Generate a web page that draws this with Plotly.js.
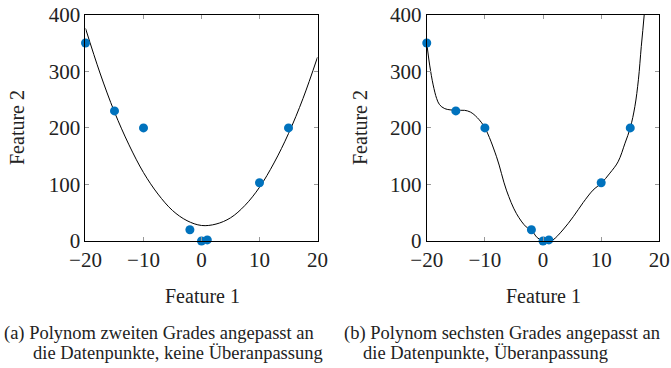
<!DOCTYPE html>
<html>
<head>
<meta charset="utf-8">
<script src="https://cdn.plot.ly/plotly-3.0.1.min.js"></script>
<style>html,body{margin:0;padding:0;background:#fff;}#chart{width:671px;height:368px;}</style>
</head>
<body>
<div id="chart"></div>
<script>
// Data points (Feature 1, Feature 2)
const pointsX = [-20, -15, -10, -2, 0, 1, 10, 15];
const pointsY = [350, 230, 200, 20, 0, 2, 103, 200];

// Curve (a): second-degree fit
const fit2X = [-20, -17.5, -15, -12.5, -10, -7.5, -5, -2.5, 0, 2.5, 5, 7.5, 10, 12.5, 15, 17.5, 20];
const fit2Y = [376, 297, 228, 170, 121, 83, 54, 36, 27.5, 30, 41, 63, 95, 138, 190, 252, 325];

// Curve (b): sixth-degree fit
const fit6X = [-20, -19.5, -18.9, -18.3, -17.8, -16.9, -15, -13.5, -12.5, -11.3, -10, -8, -6.3, -4.6, -2.9, -2, -1, 0, 1, 1.7, 3.4, 5.2, 6.9, 8.6, 10, 11.5, 12.9, 14.1, 15, 15.8, 16.4, 16.9, 17.4, 17.8];
const fit6Y = [350, 311, 276, 252, 241, 234, 231, 231, 228, 218, 200, 149, 90, 49, 25, 19.5, 6, 0.5, 0, 2, 19.5, 43, 68, 90, 102, 120, 140, 173, 200, 238, 285, 344, 400, 460];

const xTicks = [-20, -10, 0, 10, 20];
const yTicks = [0, 100, 200, 300, 400];

const blue = '#0072bd';
const serif = 'Liberation Serif';

const traces = [
  {x: fit2X, y: fit2Y, mode: 'lines', line: {color: '#000', width: 1, shape: 'spline'}, xaxis: 'x', yaxis: 'y', hoverinfo: 'skip'},
  {x: pointsX, y: pointsY, mode: 'markers', marker: {color: blue, size: 9}, xaxis: 'x', yaxis: 'y', cliponaxis: false},
  {x: fit6X, y: fit6Y, mode: 'lines', line: {color: '#000', width: 1, shape: 'spline'}, xaxis: 'x2', yaxis: 'y2', hoverinfo: 'skip'},
  {x: pointsX, y: pointsY, mode: 'markers', marker: {color: blue, size: 9}, xaxis: 'x2', yaxis: 'y2', cliponaxis: false}
];

function xa(domain, anchor) {
  return {domain: domain, anchor: anchor, range: [-20, 20], tickvals: xTicks, ticks: 'inside', ticklen: 4,
    tickcolor: '#999', tickwidth: 1, showline: true, linecolor: '#000', linewidth: 1, mirror: 'ticks',
    showgrid: false, zeroline: false, tickfont: {family: serif, size: 21, color: '#222'}};
}
function ya(domain, anchor) {
  return {domain: domain, anchor: anchor, range: [0, 400], tickvals: yTicks, ticks: 'inside', ticklen: 4,
    tickcolor: '#999', tickwidth: 1, showline: true, linecolor: '#000', linewidth: 1, mirror: 'ticks',
    showgrid: false, zeroline: false, tickfont: {family: serif, size: 21, color: '#222'}};
}

const capFont = {family: serif, size: 18.5, color: '#222'};
const titleFont = {family: serif, size: 20, color: '#222'};

const layout = {
  width: 671, height: 368,
  margin: {l: 0, r: 0, t: 0, b: 0},
  paper_bgcolor: '#fff', plot_bgcolor: '#fff',
  font: {family: serif},
  showlegend: false,
  xaxis: xa([0.1274, 0.4732], 'y'),
  yaxis: ya([0.345, 0.960], 'x'),
  xaxis2: xa([0.636, 0.9826], 'y2'),
  yaxis2: ya([0.345, 0.960], 'x2'),
  annotations: [
    {text: 'Feature 1', xref: 'paper', yref: 'paper', x: 202/671, y: 1 - 296/368, xanchor: 'center', yanchor: 'middle', showarrow: false, font: titleFont},
    {text: 'Feature 1', xref: 'paper', yref: 'paper', x: 543/671, y: 1 - 296/368, xanchor: 'center', yanchor: 'middle', showarrow: false, font: titleFont},
    {text: 'Feature 2', xref: 'paper', yref: 'paper', x: 17/671, y: 1 - 128/368, xanchor: 'center', yanchor: 'middle', textangle: -90, showarrow: false, font: titleFont},
    {text: 'Feature 2', xref: 'paper', yref: 'paper', x: 360/671, y: 1 - 128/368, xanchor: 'center', yanchor: 'middle', textangle: -90, showarrow: false, font: titleFont},
    {text: '(a) Polynom zweiten Grades angepasst an', xref: 'paper', yref: 'paper', x: 2/671, y: 1 - 333/368, xanchor: 'left', yanchor: 'middle', showarrow: false, font: capFont},
    {text: 'die Datenpunkte, keine Überanpassung', xref: 'paper', yref: 'paper', x: 31/671, y: 1 - 353/368, xanchor: 'left', yanchor: 'middle', showarrow: false, font: capFont},
    {text: '(b) Polynom sechsten Grades angepasst an', xref: 'paper', yref: 'paper', x: 342/671, y: 1 - 333/368, xanchor: 'left', yanchor: 'middle', showarrow: false, font: capFont},
    {text: 'die Datenpunkte, Überanpassung', xref: 'paper', yref: 'paper', x: 361/671, y: 1 - 353/368, xanchor: 'left', yanchor: 'middle', showarrow: false, font: capFont}
  ]
};

Plotly.newPlot('chart', traces, layout, {displayModeBar: false, staticPlot: true});
</script>
</body>
</html>
